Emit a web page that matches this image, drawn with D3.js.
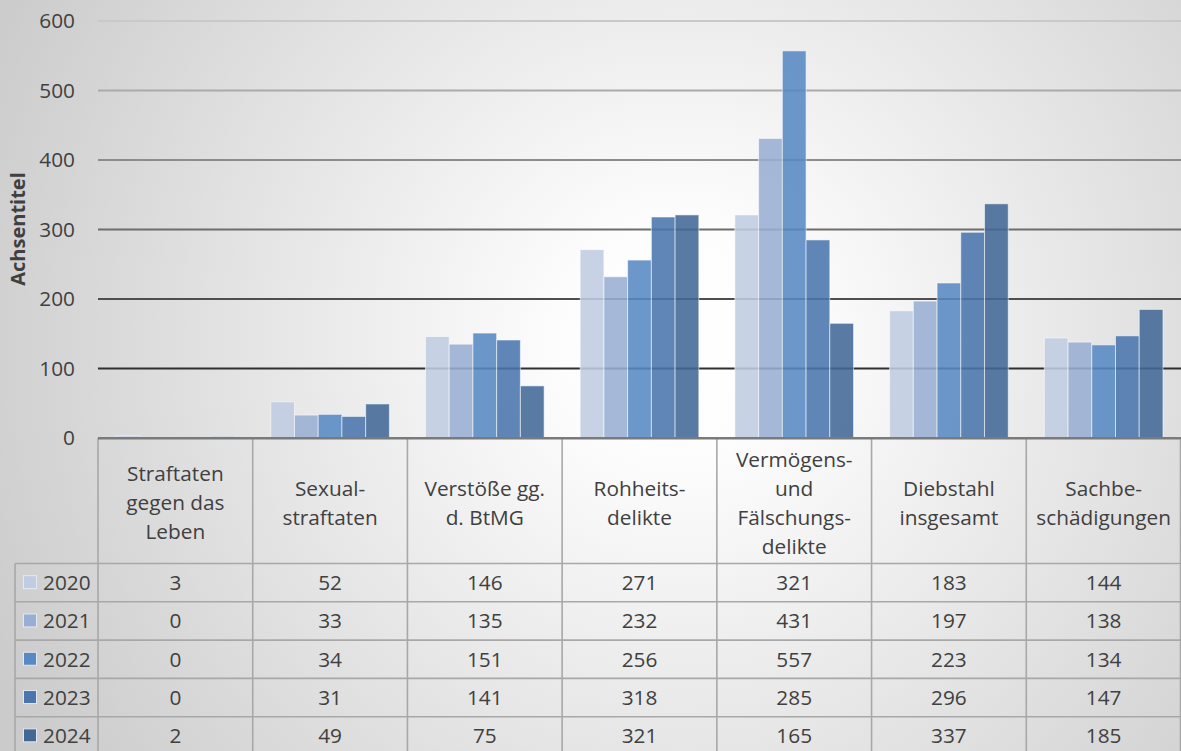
<!DOCTYPE html>
<html>
<head>
<meta charset="utf-8">
<script src="https://cdn.jsdelivr.net/npm/d3@7"></script>
<style>
  html, body { margin: 0; padding: 0; background: #fff; }
  svg { display: block; font-family: "Open Sans", "Noto Sans", sans-serif; }
</style>
</head>
<body>
<svg id="chart" width="1181" height="751"></svg>
<script>
// ---- data ----
const categories = [
  "Straftaten\ngegen das\nLeben",
  "Sexual-\nstraftaten",
  "Verstöße gg.\nd. BtMG",
  "Rohheits-\ndelikte",
  "Vermögens-\nund\nFälschungs-\ndelikte",
  "Diebstahl\ninsgesamt",
  "Sachbe-\nschädigungen"
];
const years = ["2020", "2021", "2022", "2023", "2024"];
const values2020 = [3, 52, 146, 271, 321, 183, 144];
const values2021 = [0, 33, 135, 232, 431, 197, 138];
const values2022 = [0, 34, 151, 256, 557, 223, 134];
const values2023 = [0, 31, 141, 318, 285, 296, 147];
const values2024 = [2, 49, 75, 321, 165, 337, 185];
const yTicks = [0, 100, 200, 300, 400, 500, 600];
const axisTitle = "Achsentitel";

const seriesValues = [values2020, values2021, values2022, values2023, values2024];
const colors = ["#c0cce1", "#9aaed3", "#5889c3", "#4a75ad", "#426996"];

// ---- layout ----
const W = 1181, H = 751;
const plotLeft = 98, plotRight = 1181;
const headerBottom = 563.5, rowH = 38.3, legendLeft = 15;
const textColor = "#404040";
const tableStroke = "#a8a8a8";
const fs = 20.8;

const svg = d3.select("#chart");
const defs = svg.append("defs");

const bg = defs.append("radialGradient").attr("id", "bgGrad")
  .attr("gradientUnits", "userSpaceOnUse")
  .attr("cx", 680).attr("cy", 340).attr("r", 760);
bg.append("stop").attr("offset", 0).attr("stop-color", "#ffffff");
bg.append("stop").attr("offset", 0.15).attr("stop-color", "#fdfdfd");
bg.append("stop").attr("offset", 1).attr("stop-color", "#cbcbcb");

const gg = defs.append("linearGradient").attr("id", "gridGrad")
  .attr("gradientUnits", "userSpaceOnUse")
  .attr("x1", 0).attr("y1", 0).attr("x2", 0).attr("y2", 438);
gg.append("stop").attr("offset", 0).attr("stop-color", "#d2d2d2");
gg.append("stop").attr("offset", 1).attr("stop-color", "#111111");

svg.append("rect").attr("width", W).attr("height", H).attr("fill", "url(#bgGrad)");

const x = d3.scaleBand().domain(categories).range([plotLeft, plotRight]).paddingInner(0).paddingOuter(0);
const xs = d3.scaleBand().domain(years).range([0, x.bandwidth()]).paddingInner(0).paddingOuter(0.76);
const y = d3.scaleLinear().domain([0, 600]).range([438, 21]);

// gridlines
svg.append("g").selectAll("line").data(yTicks.filter(d => d > 0)).join("line")
  .attr("x1", plotLeft).attr("x2", plotRight)
  .attr("y1", d => y(d)).attr("y2", d => y(d))
  .attr("stroke", "url(#gridGrad)").attr("stroke-width", 1.8);

// y axis labels
const yAxis = svg.append("g").attr("transform", "translate(75,0)")
  .call(d3.axisLeft(y).tickValues(yTicks).tickSize(0).tickPadding(0).tickFormat(d3.format("d")));
yAxis.select(".domain").remove();
yAxis.selectAll("text").attr("font-size", fs).attr("fill", textColor)
  .attr("font-family", '"Open Sans", sans-serif');

// axis title
svg.append("text")
  .attr("transform", `translate(25,229) rotate(-90)`)
  .attr("text-anchor", "middle")
  .attr("font-size", 20).attr("font-weight", "bold").attr("fill", textColor)
  .text(axisTitle);

// bars
const series = years.map((yr, i) => ({ year: yr, color: colors[i], values: seriesValues[i] }));
svg.append("g").selectAll("g").data(series).join("g")
  .attr("fill", d => d.color)
  .selectAll("rect").data(d => d.values.map((v, j) => ({ year: d.year, cat: categories[j], v })))
  .join("rect")
  .attr("x", d => x(d.cat) + xs(d.year))
  .attr("width", xs.bandwidth())
  .attr("y", d => y(d.v))
  .attr("height", d => y(0) - y(d.v))
  .attr("fill-opacity", 0.88)
  .attr("stroke", "rgba(255,255,255,0.55)")
  .attr("stroke-width", 1);

// ---- data table ----
const table = svg.append("g");
const nRows = years.length;
const tableBottom = headerBottom + rowH * nRows;

const colEdges = categories.map(c => x(c)).concat([plotRight - 0.5]);
table.selectAll("line.v").data(colEdges).join("line").attr("class", "v")
  .attr("x1", d => d).attr("x2", d => d)
  .attr("y1", 438).attr("y2", tableBottom)
  .attr("stroke", tableStroke).attr("stroke-width", 1.6);
table.append("line").attr("x1", legendLeft).attr("x2", legendLeft)
  .attr("y1", headerBottom).attr("y2", tableBottom)
  .attr("stroke", tableStroke).attr("stroke-width", 1.6);
table.selectAll("line.h").data(d3.range(nRows + 1)).join("line").attr("class", "h")
  .attr("x1", legendLeft).attr("x2", plotRight)
  .attr("y1", i => headerBottom + i * rowH).attr("y2", i => headerBottom + i * rowH)
  .attr("stroke", tableStroke).attr("stroke-width", 1.6);

// axis (zero) line
svg.append("line").attr("x1", plotLeft).attr("x2", plotRight)
  .attr("y1", y(0) + 0.3).attr("y2", y(0) + 0.3)
  .attr("stroke", "#7a7a7a").attr("stroke-width", 2.4);

// header text
const lineH = 29;
const headerCenter = 503;
categories.forEach(c => {
  const lines = c.split("\n");
  const t = table.append("text")
    .attr("text-anchor", "middle").attr("font-size", fs).attr("fill", textColor);
  lines.forEach((ln, k) => {
    t.append("tspan")
      .attr("x", x(c) + x.bandwidth() / 2)
      .attr("y", headerCenter + (k - (lines.length - 1) / 2) * lineH)
      .attr("dy", "0.35em")
      .text(ln);
  });
});

// rows
series.forEach((s, i) => {
  const cy = headerBottom + i * rowH + rowH / 2;
  table.append("rect")
    .attr("x", 23.5).attr("y", cy - 7).attr("width", 13).attr("height", 13)
    .attr("fill", s.color).attr("stroke", "#e4e8f0").attr("stroke-width", 1);
  table.append("text")
    .attr("x", 43).attr("y", cy).attr("dy", "0.35em")
    .attr("font-size", fs).attr("fill", textColor)
    .text(s.year);
  s.values.forEach((v, j) => {
    table.append("text")
      .attr("x", x(categories[j]) + x.bandwidth() / 2)
      .attr("y", cy).attr("dy", "0.35em")
      .attr("text-anchor", "middle")
      .attr("font-size", fs).attr("fill", textColor)
      .text(v);
  });
});
</script>
</body>
</html>
